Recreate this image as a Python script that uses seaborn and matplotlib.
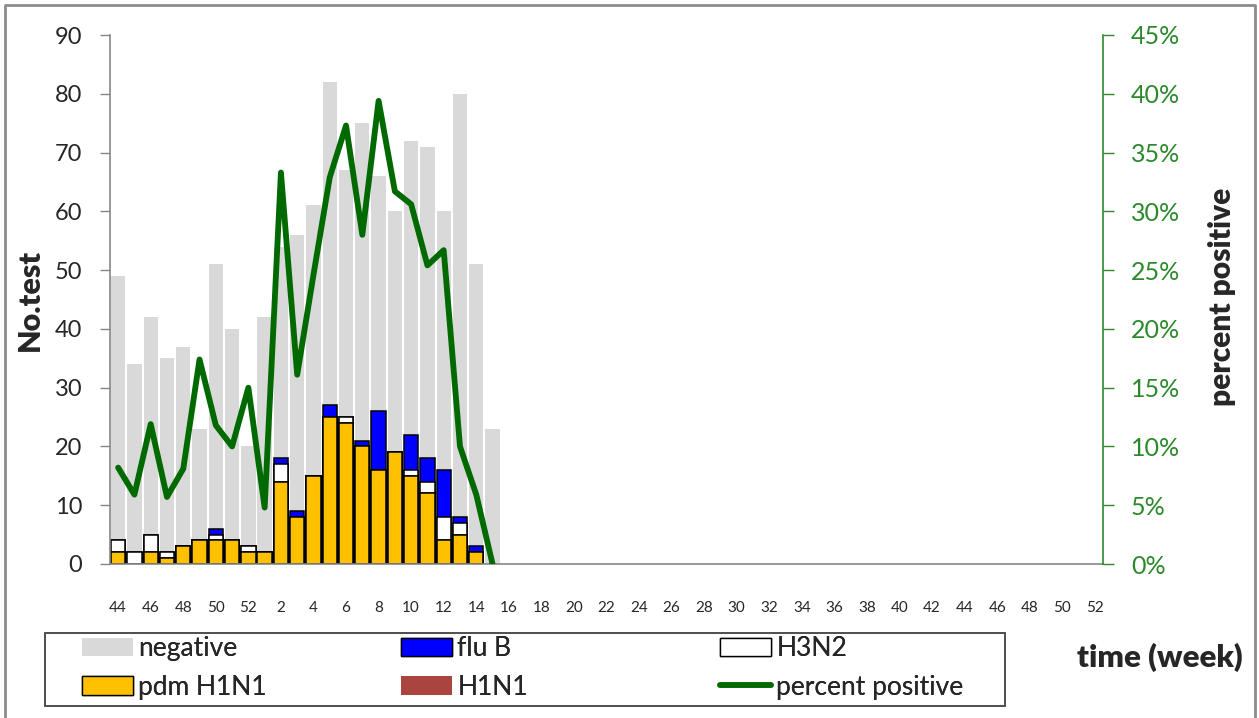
import numpy as np
import pandas as pd
import matplotlib
matplotlib.use("Agg")
import matplotlib.pyplot as plt
import seaborn as sns
from matplotlib.patches import Patch, Rectangle
from matplotlib.lines import Line2D
from matplotlib.ticker import FuncFormatter

# week axis: 44..52 of first season year, then 1..52
week_labels = list(range(44, 53)) + list(range(1, 53))

# surveillance data, weeks 44 .. 15 (24 weeks with data)
negative = [45, 32, 37, 33, 34, 19, 45, 36, 17, 40, 36, 47,
            46, 55, 42, 54, 40, 41, 50, 53, 44, 72, 48, 23]
pdm_h1n1 = [2, 0, 2, 1, 3, 4, 4, 4, 2, 2, 14, 8,
            15, 25, 24, 20, 16, 19, 15, 12, 4, 5, 2, 0]
h1n1 = [0, 0, 0, 0, 0, 0, 0, 0, 0, 0, 0, 0,
        0, 0, 0, 0, 0, 0, 0, 0, 0, 0, 0, 0]
h3n2 = [2, 2, 3, 1, 0, 0, 1, 0, 1, 0, 3, 0,
        0, 0, 1, 0, 0, 0, 1, 2, 4, 2, 0, 0]
flu_b = [0, 0, 0, 0, 0, 0, 1, 0, 0, 0, 1, 1,
         0, 2, 0, 1, 10, 0, 6, 4, 8, 1, 1, 0]
pct_positive = [8.2, 5.9, 11.9, 5.7, 8.1, 17.4, 11.8, 10.0, 15.0, 4.8, 33.3, 16.1,
                24.6, 32.9, 37.3, 28.0, 39.4, 31.7, 30.6, 25.4, 26.7, 10.0, 5.9, 0.0]

df = pd.DataFrame({"slot": range(len(negative)), "negative": negative, "pdm": pdm_h1n1,
                   "h1n1": h1n1, "h3n2": h3n2, "flub": flu_b, "pct": pct_positive})
df["c1"] = df["pdm"]
df["c2"] = df["c1"] + df["h1n1"]
df["c3"] = df["c2"] + df["h3n2"]
df["c4"] = df["c3"] + df["flub"]
df["total"] = df["c4"] + df["negative"]

GRAY = "#d9d9d9"
YELLOW = "#ffc000"
BLUE = "#0000ff"
RED = "#a9443f"
GREEN = "#006a00"
AXGREEN = "#2b892b"
AXGRAY = "#868686"

sns.set_style("white")
plt.rcParams["font.family"] = ["Lato", "DejaVu Sans"]

fig = plt.figure(figsize=(12.59, 7.18), dpi=100)
ax = fig.add_axes([110 / 1259, 1 - 564 / 718, 993 / 1259, 529 / 718])

order = list(range(len(week_labels)))
bw = 0.88

# gray total first, then cumulative positives drawn front-to-back
sns.barplot(data=df, x="slot", y="total", order=order, color=GRAY, saturation=1,
            width=bw, errorbar=None, linewidth=0, ax=ax)
layers = [("c4", BLUE), ("c3", "white"), ("c2", RED), ("c1", YELLOW)]
for col, colr in layers:
    d = df[df[col] > 0]
    sns.barplot(data=d, x="slot", y=col, order=order, color=colr, saturation=1,
                width=bw, errorbar=None, edgecolor="black", linewidth=1.1, ax=ax)

ax.set_xlim(-0.5, len(order) - 0.5)
ax.set_ylim(0, 90)
ax.set_yticks(range(0, 91, 10))
ax.set_xlabel("")
ax.set_ylabel("")
ax.set_xticks(order[::2])
ax.set_xticklabels([str(w) for w in week_labels[::2]])
ax.set_xticks(np.arange(-0.5, len(order), 1), minor=True)
ax.tick_params(axis="x", which="major", length=0, pad=27, labelsize=11, labelcolor="#262626")
ax.tick_params(axis="x", which="minor", length=7, width=1, color=AXGRAY, direction="out")
ax.tick_params(axis="y", length=7, width=1, color=AXGRAY, direction="out", pad=13,
               labelsize=17, labelcolor="#262626", left=True)
for s in ["top", "right"]:
    ax.spines[s].set_visible(False)
for s in ["left", "bottom"]:
    ax.spines[s].set_color(AXGRAY)
    ax.spines[s].set_linewidth(1.2)

ax2 = ax.twinx()
sns.lineplot(data=df, x="slot", y="pct", color=GREEN, linewidth=4.2, ax=ax2,
             solid_joinstyle="round", solid_capstyle="round")
ax2.set_ylim(0, 45)
ax2.set_xlim(-0.5, len(order) - 0.5)
ax2.set_yticks(range(0, 46, 5))
ax2.yaxis.set_major_formatter(FuncFormatter(lambda v, p: f"{v:.0f}%"))
ax2.tick_params(axis="y", length=8, width=1, color=AXGREEN, direction="out", pad=12,
                labelsize=18, labelcolor=AXGREEN, right=True)
ax2.set_xlabel("")
ax2.set_ylabel("")
for s in ["top", "left", "bottom"]:
    ax2.spines[s].set_visible(False)
ax2.spines["right"].set_color(AXGREEN)
ax2.spines["right"].set_linewidth(1.2)

# axis titles
fig.text(30 / 1259, 1 - 300 / 718, "No.test", rotation=90, ha="center", va="center",
         fontsize=22, fontweight="heavy")
fig.text(1222 / 1259, 1 - 297 / 718, "percent positive", rotation=90, ha="center",
         va="center", fontsize=21.5, fontweight="heavy")
fig.text(1160 / 1259, 1 - 657 / 718, "time (week)", ha="center", va="center",
         fontsize=22.5, fontweight="heavy")

# legend: three columns in one frame
cols = [
    [(Patch(facecolor=GRAY, edgecolor="none"), "negative"),
     (Patch(facecolor=YELLOW, edgecolor="black"), "pdm H1N1")],
    [(Patch(facecolor=BLUE, edgecolor="black"), "flu B"),
     (Patch(facecolor=RED, edgecolor="none"), "H1N1")],
    [(Patch(facecolor="white", edgecolor="black"), "H3N2"),
     (Line2D([0], [0], color=GREEN, linewidth=4), "percent positive")],
]
for i, items in enumerate(cols):
    x0 = [82, 401, 720][i]
    leg = fig.legend([h for h, _ in items], [l for _, l in items], loc="upper left",
                     bbox_to_anchor=(x0 / 1259, 1 - 636 / 718), frameon=False,
                     fontsize=19, handlelength=1.93, handleheight=0.7,
                     handletextpad=0.2, labelspacing=0.52, borderpad=0,
                     borderaxespad=0)
    fig.add_artist(leg)
fig.add_artist(Rectangle((45 / 1259, 1 - 706 / 718), 960 / 1259, 73 / 718,
                         transform=fig.transFigure, fill=False, edgecolor="#404040",
                         linewidth=1.3))

# outer chart border
fig.add_artist(Line2D([5 / 1259, 5 / 1259, 1255 / 1259, 1255 / 1259],
                      [0, 1 - 5 / 718, 1 - 5 / 718, 0], transform=fig.transFigure,
                      color="#8c8c8c", linewidth=2))

fig.savefig("out.png", dpi=100)
